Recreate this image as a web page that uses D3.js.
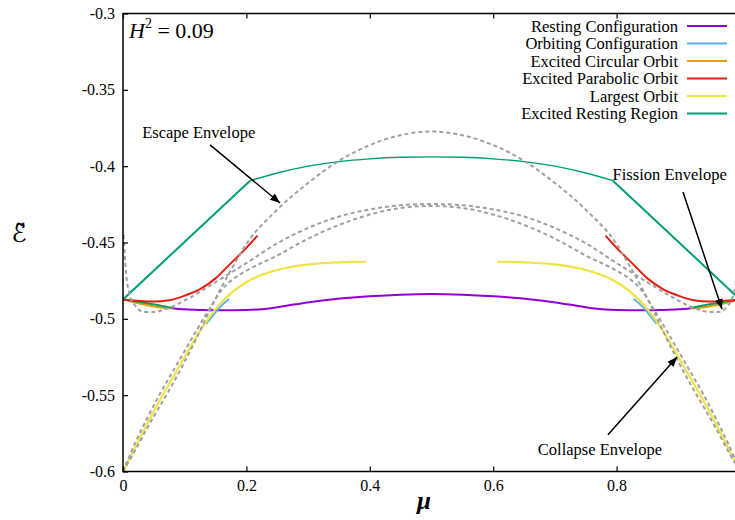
<!DOCTYPE html>
<html>
<head>
<meta charset="utf-8">
<script src="https://cdn.jsdelivr.net/npm/d3@7"></script>
<style>
  body { margin: 0; background: #fff; }
</style>
</head>
<body>
<div id="chart"></div>
<script>
// Data: mu values and the matching energies for each curve

// Resting Configuration (purple)
var restMu = [0.08, 0.1, 0.13, 0.16, 0.2, 0.24, 0.28, 0.32, 0.36, 0.4, 0.45, 0.5, 0.55, 0.6, 0.64, 0.68, 0.72, 0.76, 0.8, 0.84, 0.87, 0.9, 0.92];
var restE = [-0.4930, -0.4938, -0.4942, -0.4944, -0.4942, -0.4930, -0.4905, -0.4882, -0.4864, -0.4852, -0.4842, -0.4838, -0.4842, -0.4852, -0.4864, -0.4882, -0.4905, -0.4930, -0.4942, -0.4944, -0.4942, -0.4938, -0.4930];

// Orbiting Configuration (light blue), two short pieces
var orbitLMu = [0.135, 0.145, 0.16, 0.172];
var orbitLE = [-0.5033, -0.4982, -0.4912, -0.4870];
var orbitRMu = [0.828, 0.84, 0.855, 0.865];
var orbitRE = [-0.4870, -0.4912, -0.4982, -0.5033];

// Excited Circular Orbit (orange)
var circLMu = [0, 0.02, 0.04, 0.06, 0.08];
var circLE = [-0.4873, -0.4892, -0.4910, -0.4925, -0.4932];
var circRMu = [0.92, 0.94, 0.96, 0.98, 1];
var circRE = [-0.4932, -0.4925, -0.4910, -0.4892, -0.4873];

// Excited Parabolic Orbit (red)
var paraLMu = [0, 0.025, 0.05, 0.075, 0.1, 0.125, 0.15, 0.175, 0.2, 0.218];
var paraLE = [-0.4873, -0.4882, -0.4887, -0.4878, -0.4848, -0.4805, -0.4735, -0.4635, -0.4535, -0.4455];
var paraRMu = [0.782, 0.8, 0.825, 0.85, 0.875, 0.9, 0.925, 0.95, 0.975, 1];
var paraRE = [-0.4455, -0.4535, -0.4635, -0.4735, -0.4805, -0.4848, -0.4878, -0.4887, -0.4882, -0.4873];

// Largest Orbit (yellow)
var largeLMu = [0, 0.02, 0.04, 0.06, 0.08, 0.1, 0.12, 0.14, 0.16, 0.18, 0.2, 0.22, 0.25, 0.28, 0.31, 0.34, 0.37, 0.394];
var largeLE = [-0.6, -0.584, -0.568, -0.553, -0.539, -0.525, -0.511, -0.499, -0.489, -0.4815, -0.476, -0.472, -0.468, -0.4655, -0.464, -0.4632, -0.4627, -0.4626];
var largeRMu = [0.606, 0.63, 0.66, 0.69, 0.72, 0.75, 0.78, 0.8, 0.82, 0.84, 0.86, 0.88, 0.9, 0.92, 0.94, 0.96, 0.98, 1];
var largeRE = [-0.4626, -0.4627, -0.4632, -0.464, -0.4655, -0.468, -0.472, -0.476, -0.4815, -0.489, -0.499, -0.511, -0.525, -0.539, -0.553, -0.568, -0.584, -0.6];

// Excited Resting Region (green): outer edges, top arc, lower wedges
var regionEdgeLMu = [0, 0.206];
var regionEdgeLE = [-0.4873, -0.4095];
var regionEdgeRMu = [0.794, 1];
var regionEdgeRE = [-0.4095, -0.4873];
var regionTopMu = [0.206, 0.25, 0.3, 0.35, 0.4, 0.45, 0.5, 0.55, 0.6, 0.65, 0.7, 0.75, 0.794];
var regionTopE = [-0.4095, -0.4045, -0.4000, -0.3970, -0.3952, -0.3942, -0.3939, -0.3942, -0.3952, -0.3970, -0.4000, -0.4045, -0.4095];
var regionLowLMu = [0, 0.02, 0.04, 0.06, 0.08];
var regionLowLE = [-0.4873, -0.4885, -0.4898, -0.4912, -0.4928];
var regionLowRMu = [0.92, 0.94, 0.96, 0.98, 1];
var regionLowRE = [-0.4928, -0.4912, -0.4898, -0.4885, -0.4873];

// Envelopes (grey dashed)
var escapeMu = [0, 0.02, 0.04, 0.06, 0.08, 0.1, 0.12, 0.14, 0.16, 0.18, 0.2, 0.25, 0.3, 0.35, 0.4, 0.45, 0.5, 0.55, 0.6, 0.65, 0.7, 0.75, 0.8, 0.82, 0.84, 0.86, 0.88, 0.9, 0.92, 0.94, 0.96, 0.98, 1];
var escapeE = [-0.6, -0.586, -0.571, -0.557, -0.543, -0.528, -0.512, -0.495, -0.479, -0.4645, -0.451, -0.4285, -0.411, -0.3965, -0.3862, -0.3797, -0.3773, -0.3797, -0.3862, -0.3965, -0.411, -0.4285, -0.451, -0.4645, -0.479, -0.495, -0.512, -0.528, -0.543, -0.557, -0.571, -0.586, -0.6];
var fissionMu = [0.001, 0.005, 0.01, 0.02, 0.035, 0.05, 0.07, 0.1, 0.13, 0.16, 0.2, 0.25, 0.3, 0.35, 0.4, 0.45, 0.5, 0.55, 0.6, 0.65, 0.7, 0.75, 0.8, 0.84, 0.87, 0.9, 0.93, 0.95, 0.965, 0.98, 0.99, 0.995, 0.999];
var fissionE = [-0.445, -0.47, -0.483, -0.4915, -0.4955, -0.4955, -0.4935, -0.488, -0.481, -0.4735, -0.4635, -0.4505, -0.4405, -0.433, -0.4283, -0.4256, -0.4248, -0.4256, -0.4283, -0.433, -0.4405, -0.4505, -0.4635, -0.4735, -0.481, -0.488, -0.4935, -0.4955, -0.4955, -0.4915, -0.483, -0.47, -0.445];
var collapseMu = [0, 0.02, 0.04, 0.06, 0.08, 0.1, 0.12, 0.14, 0.16, 0.18, 0.2, 0.25, 0.3, 0.35, 0.4, 0.45, 0.5, 0.55, 0.6, 0.65, 0.7, 0.75, 0.8, 0.82, 0.84, 0.86, 0.88, 0.9, 0.92, 0.94, 0.96, 0.98, 1];
var collapseE = [-0.6, -0.581, -0.5645, -0.549, -0.535, -0.521, -0.507, -0.4935, -0.481, -0.4735, -0.4685, -0.4585, -0.4475, -0.4385, -0.4317, -0.4274, -0.4261, -0.4274, -0.4317, -0.4385, -0.4475, -0.4585, -0.4685, -0.4735, -0.481, -0.4935, -0.507, -0.521, -0.535, -0.549, -0.5645, -0.581, -0.6];

// Axis ticks
var xTicks = [0, 0.2, 0.4, 0.6, 0.8];
var yTicks = [-0.6, -0.55, -0.5, -0.45, -0.4, -0.35, -0.3];

// Legend entries
var legendNames = ["Resting Configuration", "Orbiting Configuration", "Excited Circular Orbit", "Excited Parabolic Orbit", "Largest Orbit", "Excited Resting Region"];
var legendColors = ["#9400d3", "#56b4e9", "#e69f00", "#e51e10", "#f0e442", "#009e73"];

// Annotations (text anchor point and arrow, in data units)
var noteNames = ["Escape Envelope", "Fission Envelope", "Collapse Envelope"];
var noteTextAt = [[0.031, -0.3816], [0.886, -0.4091], [0.773, -0.5892]];
var noteAnchor = ["start", "middle", "middle"];
var noteArrowFrom = [[0.141, -0.3861], [0.9076, -0.4169], [0.786, -0.5760]];
var noteArrowTo = [[0.2545, -0.4241], [0.9708, -0.4935], [0.898, -0.5250]];

var serif = "'Liberation Serif', 'Times New Roman', serif";

// SVG parameters
var svgWidth = 735;
var svgHeight = 520;

var margin = { top: 13.5, bottom: 48.5, left: 123, right: -5 };
var width = svgWidth - margin.left - margin.right;
var height = svgHeight - margin.top - margin.bottom;

var svg = d3.select("#chart")
  .append("svg")
  .attr("width", svgWidth)
  .attr("height", svgHeight)
  .style("font-family", serif);

svg.append("defs").append("clipPath")
  .attr("id", "plotClip")
  .append("rect")
  .attr("width", width)
  .attr("height", height);

var marker = svg.select("defs").append("marker")
  .attr("id", "arrowHead")
  .attr("markerUnits", "userSpaceOnUse")
  .attr("viewBox", "0 0 10 8")
  .attr("refX", 10)
  .attr("refY", 4)
  .attr("markerWidth", 10)
  .attr("markerHeight", 8)
  .attr("orient", "auto");
marker.append("path")
  .attr("d", "M0,0 L10,4 L0,8 Z")
  .attr("fill", "#000");

var chartGroup = svg.append("g")
  .attr("transform", `translate(${margin.left}, ${margin.top})`);

// Part 1: scales
var xScale = d3.scaleLinear().domain([0, 1]).range([0, width]);
var yScale = d3.scaleLinear().domain([-0.6, -0.3]).range([height, 0]);

var line = d3.line()
  .x(d => xScale(d[0]))
  .y(d => yScale(d[1]))
  .curve(d3.curveMonotoneX);

function pairs(mu, e) {
  return mu.map((m, i) => [m, e[i]]);
}

var plotArea = chartGroup.append("g").attr("clip-path", "url(#plotClip)");

function drawCurve(mu, e, color, w, dash) {
  plotArea.append("path")
    .datum(pairs(mu, e))
    .attr("d", line)
    .attr("fill", "none")
    .attr("stroke", color)
    .attr("stroke-width", w)
    .attr("stroke-dasharray", dash || null)
    .attr("stroke-linejoin", "round");
}

// Part 2: coloured curves
drawCurve(restMu, restE, legendColors[0], 2);
drawCurve(circLMu, circLE, legendColors[2], 2.2);
drawCurve(circRMu, circRE, legendColors[2], 2.2);
drawCurve(regionLowLMu, regionLowLE, legendColors[5], 2);
drawCurve(regionLowRMu, regionLowRE, legendColors[5], 2);
drawCurve(paraLMu, paraLE, legendColors[3], 2);
drawCurve(paraRMu, paraRE, legendColors[3], 2);
drawCurve(orbitLMu, orbitLE, legendColors[1], 2);
drawCurve(orbitRMu, orbitRE, legendColors[1], 2);
drawCurve(largeLMu, largeLE, legendColors[4], 2.2);
drawCurve(largeRMu, largeRE, legendColors[4], 2.2);
drawCurve(regionEdgeLMu, regionEdgeLE, legendColors[5], 2);
drawCurve(regionEdgeRMu, regionEdgeRE, legendColors[5], 2);
drawCurve(regionTopMu, regionTopE, legendColors[5], 1.4);

// Part 3: envelopes
drawCurve(escapeMu, escapeE, "#a0a0a0", 2, "4,3");
drawCurve(fissionMu, fissionE, "#a0a0a0", 2, "4,3");
drawCurve(collapseMu, collapseE, "#a0a0a0", 2, "4,3");

// Part 4: frame and ticks
chartGroup.append("rect")
  .attr("width", width)
  .attr("height", height)
  .attr("fill", "none")
  .attr("stroke", "#000")
  .attr("stroke-width", 1.5);

chartGroup.append("g")
  .attr("transform", `translate(0, ${height})`)
  .call(d3.axisBottom(xScale).tickValues(xTicks).tickSizeInner(-5).tickSizeOuter(0).tickPadding(8)
    .tickFormat(d => d === 0 ? "0" : d3.format(".1f")(d)))
  .call(g => g.select(".domain").remove());

chartGroup.append("g")
  .call(d3.axisTop(xScale).tickValues(xTicks).tickSizeInner(-5).tickSizeOuter(0).tickFormat(""))
  .call(g => g.select(".domain").remove());

chartGroup.append("g")
  .call(d3.axisLeft(yScale).tickValues(yTicks).tickSizeInner(-5).tickSizeOuter(0).tickPadding(8)
    .tickFormat(d => String(+d.toFixed(2))))
  .call(g => g.select(".domain").remove());

chartGroup.append("g")
  .attr("transform", `translate(${width}, 0)`)
  .call(d3.axisRight(yScale).tickValues(yTicks).tickSizeInner(-5).tickSizeOuter(0).tickFormat(""))
  .call(g => g.select(".domain").remove());

chartGroup.selectAll(".tick line").attr("stroke", "#000").attr("stroke-width", 1.2);
chartGroup.selectAll(".tick text")
  .attr("fill", "#000")
  .style("font-family", serif)
  .style("font-size", "16px");

// Part 5: axis labels
svg.append("text")
  .attr("x", 424)
  .attr("y", 509)
  .attr("text-anchor", "middle")
  .style("font-family", serif)
  .style("font-size", "25px")
  .style("font-weight", "bold")
  .style("font-style", "italic")
  .text("\u03bc");

// y label: script E with a combining tilde
svg.append("text")
  .attr("x", 19)
  .attr("y", 242)
  .attr("text-anchor", "middle")
  .style("font-family", "'DejaVu Serif', 'DejaVu Sans', serif")
  .style("font-size", "25px")
  .text("\u2130\u0303");

var hLabel = svg.append("text")
  .attr("x", 129)
  .attr("y", 38)
  .style("font-family", serif)
  .style("font-size", "22px");
hLabel.append("tspan").style("font-style", "italic").text("H");
hLabel.append("tspan").style("font-size", "14px").attr("dy", -10).text("2");
hLabel.append("tspan").attr("dy", 10).text(" = 0.09");

// Part 6: legend
var legend = svg.append("g");
legendNames.forEach(function (name, i) {
  var ly = 26 + i * 17.5;
  legend.append("text")
    .attr("x", 678)
    .attr("y", ly + 5.5)
    .attr("text-anchor", "end")
    .style("font-family", serif)
    .style("font-size", "16.5px")
    .text(name);
  legend.append("line")
    .attr("x1", 687)
    .attr("x2", 727)
    .attr("y1", ly)
    .attr("y2", ly)
    .attr("stroke", legendColors[i])
    .attr("stroke-width", 2);
});

// Part 7: annotations with arrows
noteNames.forEach(function (name, i) {
  chartGroup.append("text")
    .attr("x", xScale(noteTextAt[i][0]))
    .attr("y", yScale(noteTextAt[i][1]))
    .attr("text-anchor", noteAnchor[i])
    .style("font-family", serif)
    .style("font-size", "16.5px")
    .text(name);
  chartGroup.append("line")
    .attr("x1", xScale(noteArrowFrom[i][0]))
    .attr("y1", yScale(noteArrowFrom[i][1]))
    .attr("x2", xScale(noteArrowTo[i][0]))
    .attr("y2", yScale(noteArrowTo[i][1]))
    .attr("stroke", "#000")
    .attr("stroke-width", 1.5)
    .attr("marker-end", "url(#arrowHead)");
});
</script>
</body>
</html>
